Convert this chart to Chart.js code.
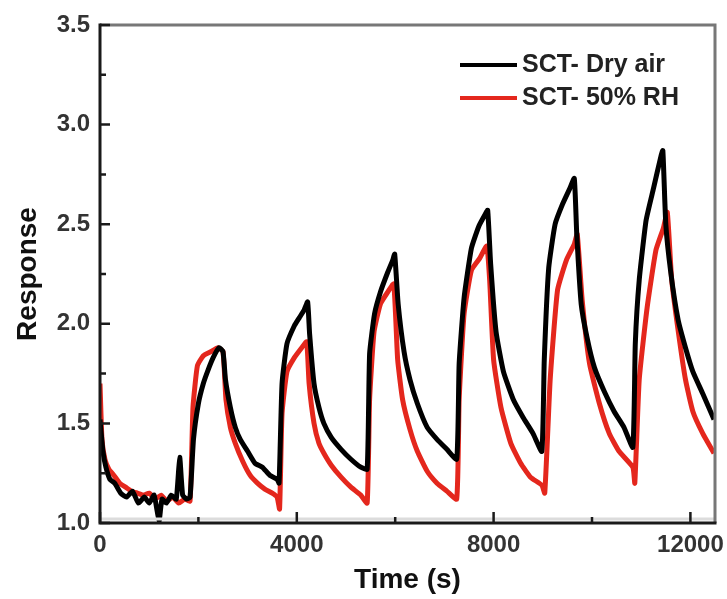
<!DOCTYPE html>
<html>
<head>
<meta charset="utf-8">
<script src="https://cdn.jsdelivr.net/npm/chart.js@4"></script>
<style>
  html, body { margin: 0; padding: 0; background: #fff; }
  #chart { display: block; }
</style>
</head>
<body>
<canvas id="chart" width="727" height="599"></canvas>
<script>
// series labels
const seriesNames = ['SCT- Dry air', 'SCT- 50% RH'];

// dry air: time (s) and response
const timeDry = [0, 60, 120, 200, 300, 420, 540, 660, 780, 900, 1000, 1100, 1200, 1260, 1350, 1450, 1550, 1620, 1680, 1760, 1830,
  1900, 2000, 2100, 2200, 2300, 2420, 2500, 2550, 2650, 2750, 2850, 3000, 3150, 3300, 3450, 3600, 3640,
  3700, 3800, 3950, 4050, 4150, 4220, 4260, 4350, 4450, 4550, 4700, 4900, 5100, 5300, 5430,
  5480, 5580, 5700, 5850, 5950, 5990, 6060, 6180, 6300, 6450, 6650, 6850, 7050, 7250,
  7300, 7400, 7550, 7700, 7830, 7880, 7940, 8050, 8200, 8400, 8600, 8800, 8980,
  9030, 9120, 9250, 9400, 9550, 9640, 9690, 9780, 9900, 10050, 10250, 10450, 10650, 10830,
  10880, 10960, 11100, 11250, 11400, 11440, 11500, 11600, 11750, 11900, 12050, 12250, 12480];
const respDry = [1.52, 1.36, 1.28, 1.22, 1.20, 1.15, 1.13, 1.16, 1.10, 1.13, 1.10, 1.14, 1.01, 1.12, 1.10, 1.14, 1.12, 1.33, 1.14, 1.12, 1.13,
  1.42, 1.60, 1.70, 1.77, 1.83, 1.88, 1.86, 1.72, 1.58, 1.48, 1.42, 1.36, 1.30, 1.28, 1.24, 1.22, 1.20,
  1.70, 1.90, 1.99, 2.03, 2.07, 2.11, 1.95, 1.70, 1.58, 1.50, 1.43, 1.37, 1.32, 1.28, 1.27,
  1.85, 2.05, 2.16, 2.26, 2.32, 2.35, 2.10, 1.86, 1.72, 1.60, 1.48, 1.42, 1.37, 1.32,
  1.80, 2.13, 2.38, 2.49, 2.55, 2.57, 2.30, 1.96, 1.76, 1.62, 1.53, 1.45, 1.36,
  1.82, 2.28, 2.50, 2.60, 2.68, 2.73, 2.45, 2.10, 1.93, 1.78, 1.66, 1.56, 1.48, 1.38,
  1.90, 2.22, 2.52, 2.68, 2.84, 2.87, 2.50, 2.26, 2.02, 1.88, 1.76, 1.65, 1.52];

// 50% RH: time (s) and response
const timeWet = [0, 40, 100, 180, 280, 400, 520, 640, 760, 880, 1000, 1120, 1240, 1360, 1480, 1600, 1720, 1830,
  1890, 1980, 2100, 2250, 2400, 2500, 2560, 2650, 2750, 2900, 3050, 3200, 3350, 3500, 3600, 3650,
  3700, 3800, 3950, 4100, 4200, 4250, 4350, 4450, 4550, 4700, 4900, 5100, 5300, 5430,
  5480, 5570, 5700, 5850, 5970, 6050, 6150, 6300, 6450, 6650, 6850, 7050, 7250,
  7300, 7400, 7550, 7720, 7860, 7920, 8000, 8150, 8350, 8550, 8750, 8980,
  9040, 9150, 9300, 9480, 9640, 9700, 9800, 9950, 10150, 10350, 10550, 10830,
  10870, 10960, 11120, 11300, 11450, 11530, 11620, 11760, 11900, 12050, 12250, 12480];
const respWet = [1.70, 1.42, 1.32, 1.27, 1.24, 1.20, 1.18, 1.16, 1.15, 1.14, 1.15, 1.12, 1.14, 1.11, 1.13, 1.10, 1.12, 1.11,
  1.58, 1.79, 1.84, 1.86, 1.88, 1.86, 1.62, 1.48, 1.40, 1.31, 1.24, 1.20, 1.17, 1.15, 1.13, 1.07,
  1.55, 1.76, 1.83, 1.88, 1.91, 1.70, 1.50, 1.40, 1.35, 1.29, 1.23, 1.18, 1.14, 1.10,
  1.62, 1.96, 2.10, 2.16, 2.20, 1.82, 1.62, 1.47, 1.36, 1.26, 1.20, 1.16, 1.12,
  1.62, 2.05, 2.27, 2.33, 2.39, 2.22, 1.82, 1.58, 1.40, 1.30, 1.23, 1.19, 1.15,
  1.72, 2.17, 2.32, 2.40, 2.45, 2.12, 1.80, 1.60, 1.45, 1.36, 1.28, 1.20,
  1.72, 2.08, 2.37, 2.48, 2.56, 2.22, 1.95, 1.72, 1.56, 1.45, 1.35, 1.23];

// tick values
const xTickValues = [0, 4000, 8000, 12000];
const xMinorTicks = [2000, 6000, 10000];
const yTickValues = [1.0, 1.5, 2.0, 2.5, 3.0, 3.5];
const yMinorTicks = [1.25, 1.75, 2.25, 2.75, 3.25];

const FONT = '"Liberation Sans", Arial, sans-serif';

const framePlugin = {
  id: 'frame',
  afterDraw(chart) {
    const ctx = chart.ctx;
    const a = chart.chartArea;
    const xs = chart.scales.x, ys = chart.scales.y;
    ctx.save();
    // soft grey line above the bottom axis
    ctx.strokeStyle = '#dcdcdc';
    ctx.lineWidth = 3;
    ctx.beginPath();
    ctx.moveTo(a.left, a.bottom - 4); ctx.lineTo(a.right, a.bottom - 4);
    ctx.stroke();
    // top and right in grey
    ctx.strokeStyle = '#777';
    ctx.lineWidth = 3;
    ctx.beginPath();
    ctx.moveTo(a.left, a.top); ctx.lineTo(a.right, a.top); ctx.lineTo(a.right, a.bottom);
    ctx.stroke();
    // left and bottom in black
    ctx.strokeStyle = '#1a1a1a';
    ctx.beginPath();
    ctx.moveTo(a.left, a.top - 1.5); ctx.lineTo(a.left, a.bottom); ctx.lineTo(a.right + 1.5, a.bottom);
    ctx.stroke();
    // inward ticks
    ctx.lineWidth = 2.5;
    ctx.beginPath();
    yTickValues.forEach(v => { const y = ys.getPixelForValue(v); ctx.moveTo(a.left, y); ctx.lineTo(a.left + 10, y); });
    yMinorTicks.forEach(v => { const y = ys.getPixelForValue(v); ctx.moveTo(a.left, y); ctx.lineTo(a.left + 6, y); });
    xTickValues.forEach(v => { const x = xs.getPixelForValue(v); ctx.moveTo(x, a.bottom); ctx.lineTo(x, a.bottom - 11); });
    xMinorTicks.forEach(v => { const x = xs.getPixelForValue(v); ctx.moveTo(x, a.bottom); ctx.lineTo(x, a.bottom - 6); });
    ctx.stroke();
    // legend
    const lx = a.right - 255, ly = a.top + 40;
    chart.data.datasets.forEach((ds, i) => {
      const y = ly + i * 33;
      ctx.strokeStyle = ds.borderColor;
      ctx.lineWidth = 4;
      ctx.beginPath(); ctx.moveTo(lx, y); ctx.lineTo(lx + 57, y); ctx.stroke();
      ctx.fillStyle = '#222';
      ctx.font = 'bold 25px ' + FONT;
      ctx.textBaseline = 'middle';
      ctx.fillText(ds.label, lx + 62, y);
    });
    ctx.restore();
  }
};

new Chart(document.getElementById('chart'), {
  type: 'line',
  data: {
    datasets: [
      {
        label: seriesNames[0],
        data: timeDry.map((t, i) => ({ x: t, y: respDry[i] })),
        borderColor: '#000000',
        borderWidth: 5,
        pointRadius: 0,
        tension: 0.15
      },
      {
        label: seriesNames[1],
        data: timeWet.map((t, i) => ({ x: t, y: respWet[i] })),
        borderColor: '#e4271d',
        borderWidth: 5,
        pointRadius: 0,
        tension: 0.15
      }
    ]
  },
  options: {
    responsive: false,
    animation: false,
    devicePixelRatio: 1,
    layout: { padding: { top: 25, right: 12, left: 0, bottom: 0 } },
    plugins: { legend: { display: false }, tooltip: { enabled: false } },
    scales: {
      x: {
        type: 'linear', min: 0, max: 12500,
        grid: { display: false, drawTicks: false }, border: { display: false },
        afterBuildTicks: s => { s.ticks = xTickValues.map(v => ({ value: v })); },
        afterFit: s => { s.height = 76; s.paddingRight = 0; s.paddingLeft = 0; },
        ticks: { color: '#333', padding: 8, maxRotation: 0, font: { family: FONT, size: 24, weight: 'bold' }, callback: v => String(v) },
        title: { display: true, text: 'Time (s)', color: '#111', padding: { top: 0, bottom: 2 }, font: { family: FONT, size: 28, weight: 'bold' } }
      },
      y: {
        type: 'linear', min: 1.0, max: 3.5,
        grid: { display: false, drawTicks: false }, border: { display: false },
        afterBuildTicks: s => { s.ticks = yTickValues.map(v => ({ value: v })); },
        afterFit: s => { s.width = 100; },
        ticks: { color: '#333', padding: 10, font: { family: FONT, size: 24, weight: 'bold' }, callback: v => v.toFixed(1) },
        title: { display: true, text: 'Response', color: '#111', padding: { top: 11, bottom: 0 }, font: { family: FONT, size: 28, weight: 'bold' } }
      }
    }
  },
  plugins: [framePlugin]
});
</script>
</body>
</html>
